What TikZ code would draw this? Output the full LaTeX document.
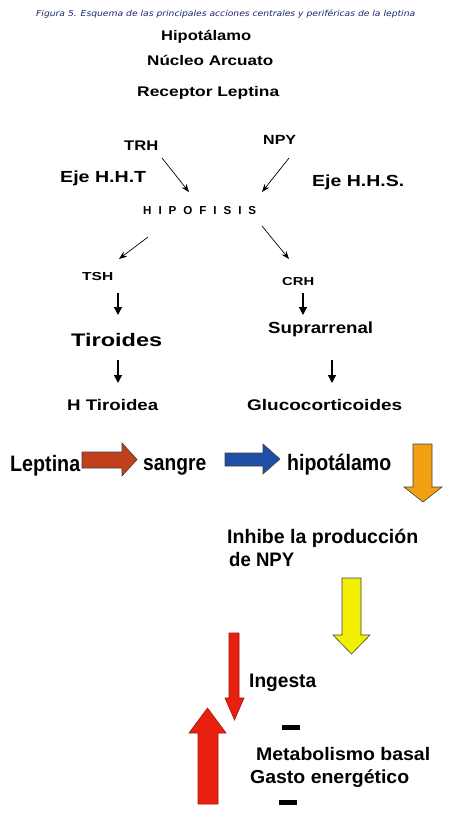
\documentclass[tikz,border=0pt]{standalone}
\usepackage{fontspec}
\setmainfont{Liberation Sans}
\newfontfamily\capfont{DejaVu Sans}
\usepackage{graphicx}
\usetikzlibrary{arrows.meta}
\definecolor{capblue}{RGB}{28,38,110}
\definecolor{brickred}{RGB}{192,64,30}
\definecolor{arrblue}{RGB}{30,78,165}
\definecolor{arrorange}{RGB}{240,160,16}
\definecolor{arryellow}{RGB}{242,240,0}
\definecolor{arrred}{RGB}{232,32,16}
% #1 width (px), #2 cap height (px), #3 text
\newcommand\fitt[3]{\resizebox{#1pt}{\height}{\fontsize{\fpeval{#2/0.716}}{12}\selectfont\bfseries #3}}
\tikzset{
  lbl/.style={inner sep=0pt, anchor=base west},
  diagarrow/.style={-{Stealth[length=8pt,width=6pt]}, line width=0.7pt},
  vertarrow/.style={-{Triangle[length=8pt,width=8pt]}, line width=1.4pt},
  blockarrow/.style={draw=black!75, line width=0.6pt, line join=miter},
}
\begin{document}
\begin{tikzpicture}[x=1pt,y=-1pt]
\useasboundingbox[fill=white] (0,0) rectangle (463,822);

% caption
\node[lbl, text=capblue] (cap) at (36,16.7)
  {\resizebox{379pt}{\height}{\fontsize{8.2}{10}\selectfont\capfont\itshape Figura 5. Esquema de las principales acciones centrales y periféricas de la leptina}};

% upper block
\node[lbl] (hipot) at (161,40.7) {\fitt{90}{10}{Hipotálamo}};
\node[lbl] (nucleo) at (147,65) {\fitt{126}{10}{Núcleo Arcuato}};
\node[lbl] (receptor) at (137,96) {\fitt{142}{10}{Receptor Leptina}};

\node[lbl] (trh) at (124,150) {\fitt{34}{10}{TRH}};
\node[lbl] (npy) at (263,144.3) {\fitt{33}{9.5}{NPY}};
\node[lbl] (ejet) at (60,182.7) {\fitt{86}{11.5}{Eje H.H.T}};
\node[lbl] (ejes) at (312,186.7) {\fitt{92}{11.5}{Eje H.H.S.}};

\node[lbl] (hipof) at (143,214) {\fitt{113}{8.3}{H\hspace{0.6em}I\hspace{0.6em}P\hspace{0.6em}O\hspace{0.6em}F\hspace{0.6em}I\hspace{0.6em}S\hspace{0.6em}I\hspace{0.6em}S}};

\node[lbl] (tsh) at (82,280) {\fitt{31}{8.3}{TSH}};
\node[lbl] (crh) at (282,285) {\fitt{32}{8.3}{CRH}};

\node[lbl] (tiroides) at (71,346) {\fitt{91}{13}{Tiroides}};
\node[lbl] (supra) at (268,333.3) {\fitt{105}{11.5}{Suprarrenal}};

\node[lbl] (htiro) at (67,410) {\fitt{91}{11}{H Tiroidea}};
\node[lbl] (gluco) at (247,410) {\fitt{155}{11}{Glucocorticoides}};

% arrow end points
\coordinate (trhA) at (162,158);   \coordinate (trhB) at (189,192);
\coordinate (npyA) at (289,158);   \coordinate (npyB) at (262,192);
\coordinate (hipL1) at (148,237);  \coordinate (hipL2) at (119,259);
\coordinate (hipR1) at (262,226);  \coordinate (hipR2) at (289,259);
\coordinate (tshA) at (118,293);   \coordinate (tshB) at (118,315);
\coordinate (crhA) at (303,293);   \coordinate (crhB) at (303,315);
\coordinate (tirA) at (118,360);   \coordinate (tirB) at (118,383);
\coordinate (supA) at (332,360);   \coordinate (supB) at (332,383);

\draw[diagarrow] (trhA) -- (trhB);
\draw[diagarrow] (npyA) -- (npyB);
\draw[diagarrow] (hipL1) -- (hipL2);
\draw[diagarrow] (hipR1) -- (hipR2);
\draw[vertarrow] (tshA) -- (tshB);
\draw[vertarrow] (crhA) -- (crhB);
\draw[vertarrow] (tirA) -- (tirB);
\draw[vertarrow] (supA) -- (supB);

% lower block (condensed)
\node[lbl] (leptina) at (10,471) {\fitt{70}{16}{Leptina}};
\node[lbl] (sangre) at (143,470) {\fitt{63}{16}{sangre}};
\node[lbl] (hipo2) at (287,470) {\fitt{104}{16}{hipotálamo}};

\node[lbl] (inhibe) at (227,543) {\fitt{191}{14}{Inhibe la producción}};
\node[lbl] (denpy) at (229,566) {\fitt{65}{14}{de NPY}};
\node[lbl] (ingesta) at (249,687) {\fitt{67}{14}{Ingesta}};
\node[lbl] (metab) at (256,760) {\fitt{174}{13}{Metabolismo basal}};
\node[lbl] (gasto) at (250,783) {\fitt{159}{13.5}{Gasto energético}};

% block arrows
\draw[blockarrow, fill=brickred] (82,452) -- (122,452) -- (122,443) -- (137,459.5) -- (122,476) -- (122,468) -- (82,468) -- cycle;
\draw[blockarrow, fill=arrblue] (225,453) -- (263,453) -- (263,444) -- (280,459) -- (263,474) -- (263,466) -- (225,466) -- cycle;
\draw[blockarrow, fill=arrorange] (413,444) -- (432,444) -- (432,487) -- (442,487) -- (423,502) -- (404,487) -- (413,487) -- cycle;
\draw[blockarrow, fill=arryellow] (342,578) -- (361,578) -- (361,635) -- (370,635) -- (351.5,654) -- (333,635) -- (342,635) -- cycle;
\draw[blockarrow, draw=arrred!70!black, fill=arrred] (229,633) -- (239,633) -- (239,698) -- (244,698) -- (234.5,720) -- (225,698) -- (229,698) -- cycle;
\draw[blockarrow, draw=arrred!70!black, fill=arrred] (198,804) -- (218,804) -- (218,733) -- (226,733) -- (207.5,708) -- (189,733) -- (198,733) -- cycle;

% dashes
\fill (282,725) rectangle (300,730);
\fill (279,800) rectangle (297,805);
\end{tikzpicture}
\end{document}
